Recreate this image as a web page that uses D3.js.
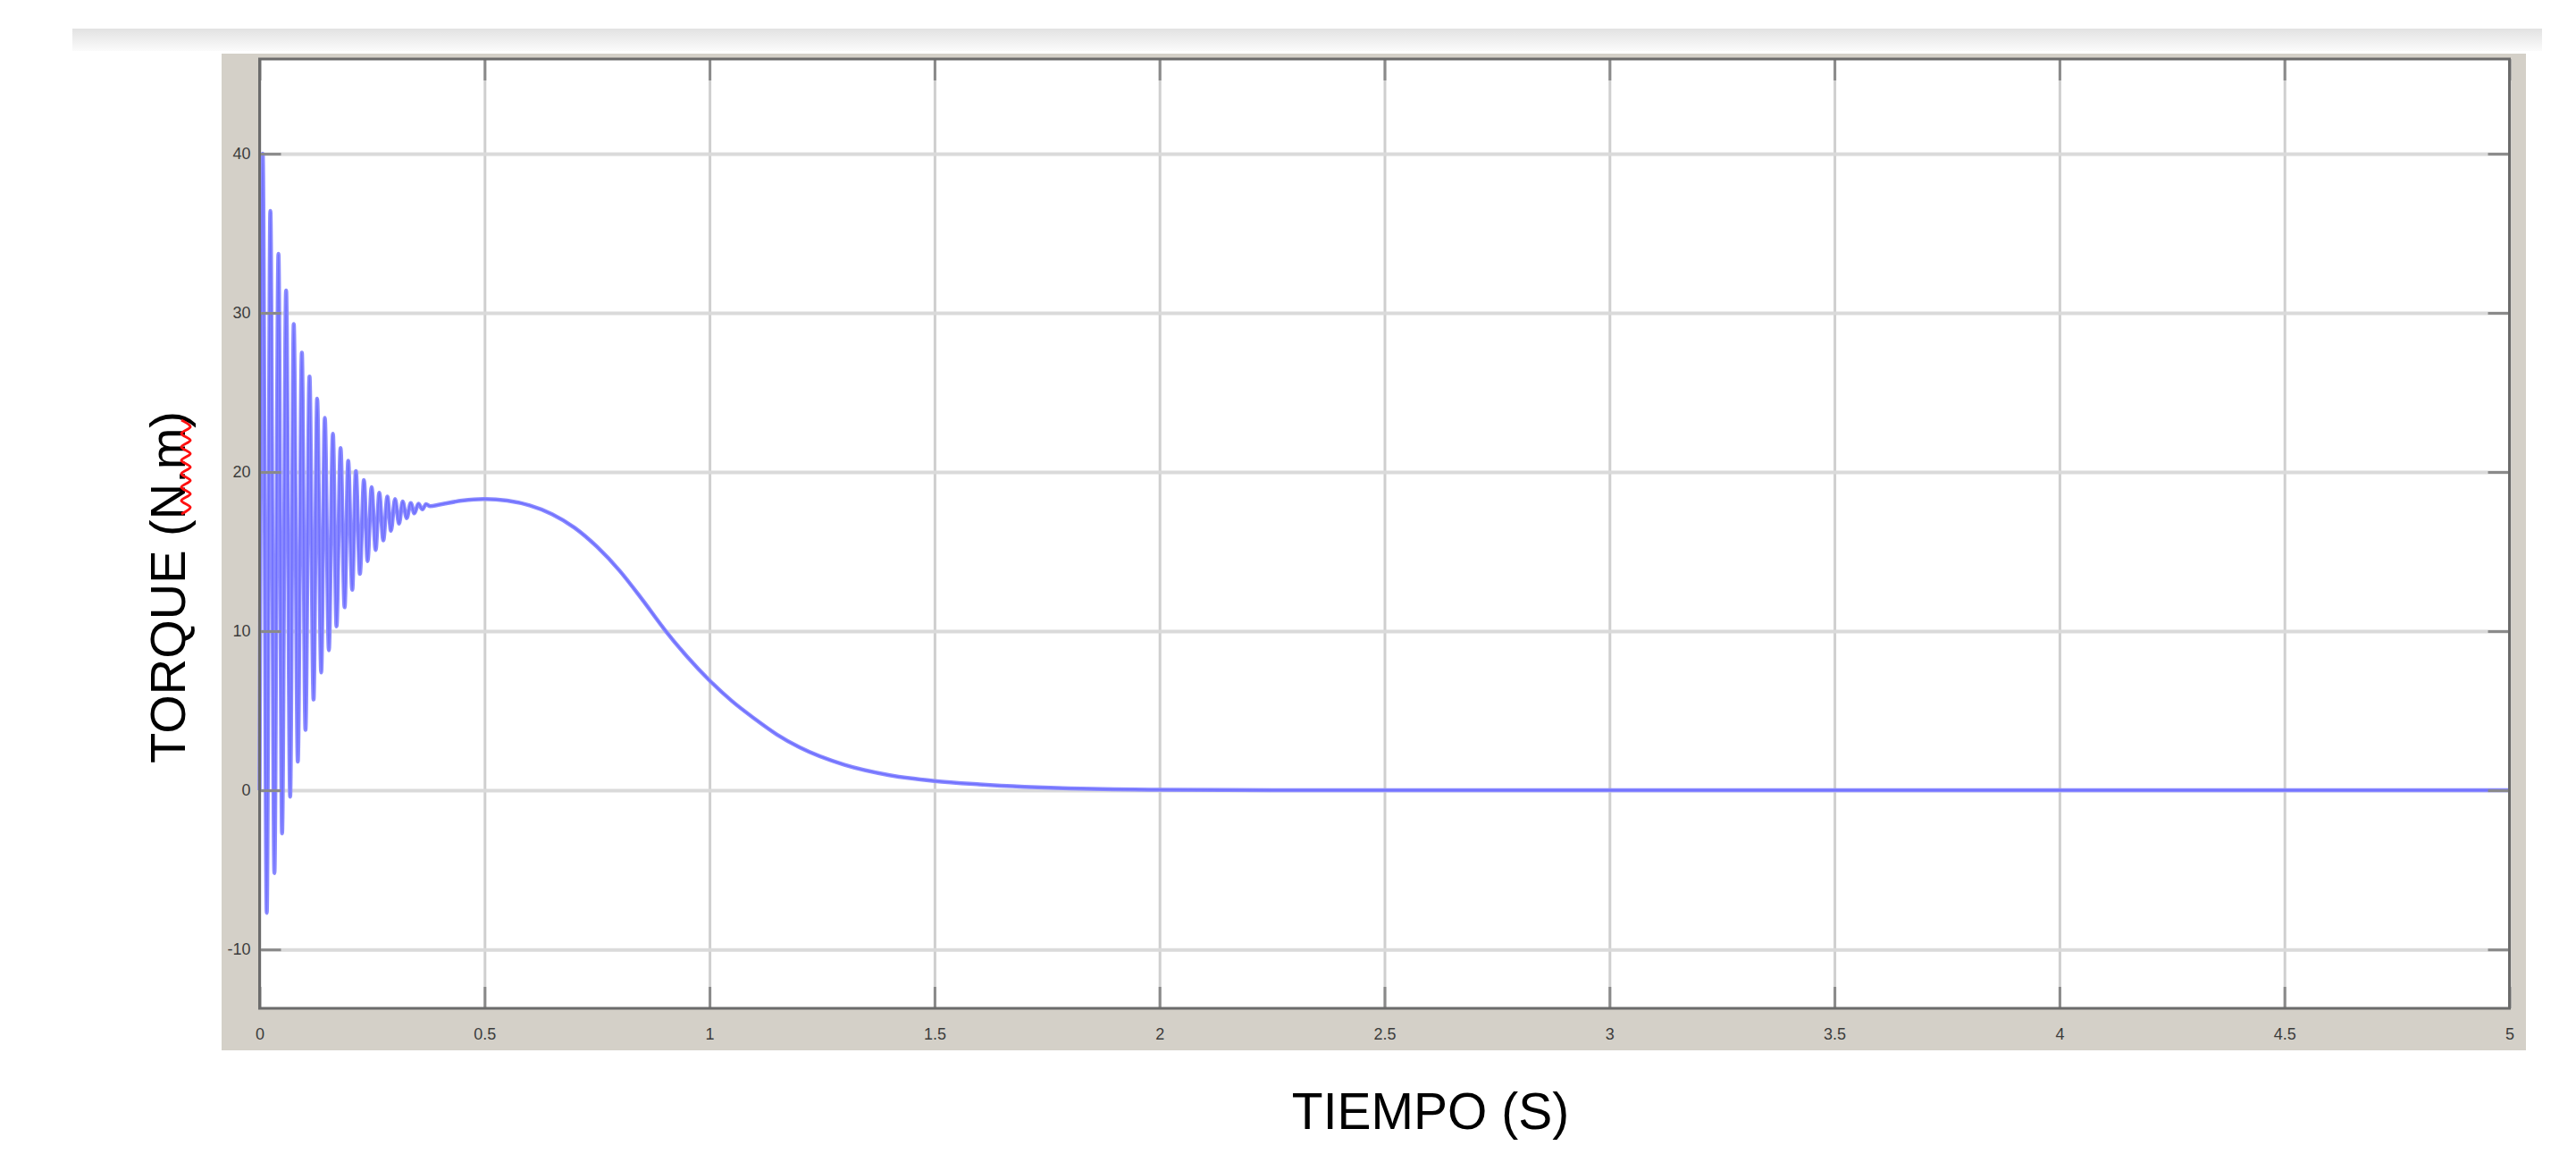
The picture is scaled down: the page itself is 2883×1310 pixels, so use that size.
<!DOCTYPE html>
<html>
<head>
<meta charset="utf-8">
<script src="https://cdn.jsdelivr.net/npm/d3@7"></script>
<style>
  html, body { margin: 0; padding: 0; background: #ffffff; }
  svg { display: block; }
</style>
</head>
<body>
<svg id="chart" width="2883" height="1310"></svg>
<script>
// ---------- data ----------
const xTicks = [0, 0.5, 1, 1.5, 2, 2.5, 3, 3.5, 4, 4.5, 5];
const yTicks = [-10, 0, 10, 20, 30, 40];
const xTickLabels = ["0", "0.5", "1", "1.5", "2", "2.5", "3", "3.5", "4", "4.5", "5"];
const yTickLabels = ["-10", "0", "10", "20", "30", "40"];
const xTitle = "TIEMPO (S)";
const yTitle = "TORQUE (N.m)";

// time (s)
const time = [
  0.000, 0.007, 0.016, 0.024, 0.033, 0.042, 0.050, 0.059, 0.068, 0.076, 0.085,
  0.094, 0.102, 0.111, 0.120, 0.128, 0.137, 0.145, 0.154, 0.163, 0.171,
  0.180, 0.189, 0.197, 0.206, 0.214, 0.223, 0.232, 0.240, 0.249, 0.258,
  0.266, 0.275, 0.284, 0.292, 0.301, 0.310, 0.318, 0.327, 0.336, 0.344,
  0.353, 0.362, 0.370, 0.379,
  0.40, 0.45, 0.50, 0.55, 0.60, 0.65, 0.70, 0.75, 0.80, 0.85, 0.90, 0.95,
  1.00, 1.05, 1.10, 1.15, 1.20, 1.30, 1.40, 1.50, 1.60, 1.70, 1.80, 1.90,
  2.00, 2.25, 2.50, 3.00, 3.50, 4.00, 4.50, 5.00
];
// torque (N.m)
const torque = [
  0.0, 40.0, -7.7, 36.4, -5.2, 33.7, -2.7, 31.4, -0.4, 29.3, 1.8,
  27.5, 3.8, 26.0, 5.7, 24.6, 7.4, 23.4, 8.8, 22.4, 10.3,
  21.5, 11.5, 20.7, 12.6, 20.05, 13.6, 19.5, 14.4, 19.05, 15.1,
  18.7, 15.7, 18.45, 16.3, 18.3, 16.75, 18.15, 17.1, 18.05, 17.4,
  18.0, 17.65, 17.98, 17.85,
  17.95, 18.2, 18.3, 18.2, 17.9, 17.35, 16.5, 15.3, 13.8, 12.0, 10.1, 8.4,
  6.9, 5.6, 4.5, 3.5, 2.7, 1.6, 0.95, 0.58, 0.37, 0.22, 0.12, 0.06,
  0.03, 0.01, 0.0, 0.0, 0.0, 0.0, 0.0, 0.0
];

// ---------- layout ----------
const plot = { left: 290.5, right: 2808.5, top: 66, bottom: 1128 };
const frame = { left: 248, right: 2827, top: 60, bottom: 1175 };

const svg = d3.select("#chart");

// gradient for top strip
const defs = svg.append("defs");
const grad = defs.append("linearGradient").attr("id", "topbar")
  .attr("x1", 0).attr("y1", 0).attr("x2", 0).attr("y2", 1);
grad.append("stop").attr("offset", "0%").attr("stop-color", "#e2e2e2");
grad.append("stop").attr("offset", "100%").attr("stop-color", "#fbfbfb");
svg.append("rect").attr("x", 81).attr("y", 32).attr("width", 2845 - 81).attr("height", 25)
  .attr("fill", "url(#topbar)");

// figure frame
svg.append("rect")
  .attr("x", frame.left).attr("y", frame.top)
  .attr("width", frame.right - frame.left).attr("height", frame.bottom - frame.top)
  .attr("fill", "#d4d0c8");

// axes background
svg.append("rect")
  .attr("x", plot.left).attr("y", plot.top)
  .attr("width", plot.right - plot.left).attr("height", plot.bottom - plot.top)
  .attr("fill", "#ffffff");

const x = d3.scaleLinear().domain([0, 5]).range([plot.left, plot.right]);
const y = d3.scaleLinear().domain([-13.7, 45.95]).range([plot.bottom, plot.top]);

// grid lines
const grid = svg.append("g");
grid.append("g")
  .attr("transform", `translate(0,${plot.bottom})`)
  .call(d3.axisBottom(x).tickValues(xTicks).tickSize(-(plot.bottom - plot.top)).tickFormat(""))
  .call(g => g.select(".domain").remove())
  .call(g => g.selectAll("line").attr("stroke", "#cfcfcf").attr("stroke-width", 3));
grid.append("g")
  .attr("transform", `translate(${plot.left},0)`)
  .call(d3.axisLeft(y).tickValues(yTicks).tickSize(-(plot.right - plot.left)).tickFormat(""))
  .call(g => g.select(".domain").remove())
  .call(g => g.selectAll("line").attr("stroke", "#dadada").attr("stroke-width", 4));

// the torque curve
const pts = time.map((t, i) => [t, torque[i]]);
const line = d3.line().x(d => x(d[0])).y(d => y(d[1])).curve(d3.curveMonotoneX);
svg.append("path").datum(pts)
  .attr("d", line)
  .attr("fill", "none")
  .attr("stroke", "#8a8aff")
  .attr("stroke-width", 4.5)
  .attr("stroke-linejoin", "round");
svg.append("path").datum(pts)
  .attr("d", line)
  .attr("fill", "none")
  .attr("stroke", "#3030ff")
  .attr("stroke-opacity", 0.3)
  .attr("stroke-width", 1.5)
  .attr("stroke-linejoin", "round");

// tick marks (inside, MATLAB style)
const tickLen = 24;
const tickStyle = g => g.call(s => s.select(".domain").remove())
  .call(s => s.selectAll("line").attr("stroke", "#8a8a8a").attr("stroke-width", 3));
svg.append("g").attr("transform", `translate(0,${plot.bottom})`)
  .call(d3.axisBottom(x).tickValues(xTicks).tickSize(-tickLen).tickFormat("")).call(tickStyle);
svg.append("g").attr("transform", `translate(0,${plot.top})`)
  .call(d3.axisTop(x).tickValues(xTicks).tickSize(-tickLen).tickFormat("")).call(tickStyle);
svg.append("g").attr("transform", `translate(${plot.left},0)`)
  .call(d3.axisLeft(y).tickValues(yTicks).tickSize(-tickLen).tickFormat("")).call(tickStyle);
svg.append("g").attr("transform", `translate(${plot.right},0)`)
  .call(d3.axisRight(y).tickValues(yTicks).tickSize(-tickLen).tickFormat("")).call(tickStyle);

// axes box
svg.append("rect")
  .attr("x", plot.left).attr("y", plot.top)
  .attr("width", plot.right - plot.left).attr("height", plot.bottom - plot.top)
  .attr("fill", "none").attr("stroke", "#6b6b6b").attr("stroke-width", 3);

// tick labels
const labelFont = "'Liberation Sans', Arial, sans-serif";
svg.append("g")
  .attr("transform", `translate(0,${plot.bottom})`)
  .call(d3.axisBottom(x).tickValues(xTicks).tickSize(0).tickPadding(22)
    .tickFormat((d, i) => xTickLabels[i]))
  .call(g => g.select(".domain").remove())
  .call(g => g.selectAll("text").attr("font-family", labelFont).attr("font-size", 18)
    .attr("fill", "#3c3c3c"));
svg.append("g")
  .attr("transform", `translate(${plot.left},0)`)
  .call(d3.axisLeft(y).tickValues(yTicks).tickSize(0).tickPadding(10)
    .tickFormat((d, i) => yTickLabels[i]))
  .call(g => g.select(".domain").remove())
  .call(g => g.selectAll("text").attr("font-family", labelFont).attr("font-size", 18)
    .attr("fill", "#3c3c3c"));

// axis titles
svg.append("text")
  .attr("x", 1601).attr("y", 1263)
  .attr("text-anchor", "middle")
  .attr("font-family", labelFont).attr("font-size", 57).attr("fill", "#000")
  .text(xTitle);
svg.append("text")
  .attr("transform", "translate(207,657) rotate(-90)")
  .attr("text-anchor", "middle")
  .attr("font-family", labelFont).attr("font-size", 56).attr("fill", "#000")
  .text(yTitle);

// red spell-check squiggle under "N.m"
const sqPts = [];
const sqX = 208, sqY0 = 470, sqY1 = 578, amp = 5, period = 15;
for (let yy = sqY0, k = 0; yy <= sqY1; yy += period / 2, k++) {
  sqPts.push([sqX + (k % 2 === 0 ? -amp : amp), yy]);
}
svg.append("path")
  .attr("d", d3.line().curve(d3.curveCatmullRom)(sqPts))
  .attr("fill", "none")
  .attr("stroke", "#ff1010").attr("stroke-width", 3);
</script>
</body>
</html>
